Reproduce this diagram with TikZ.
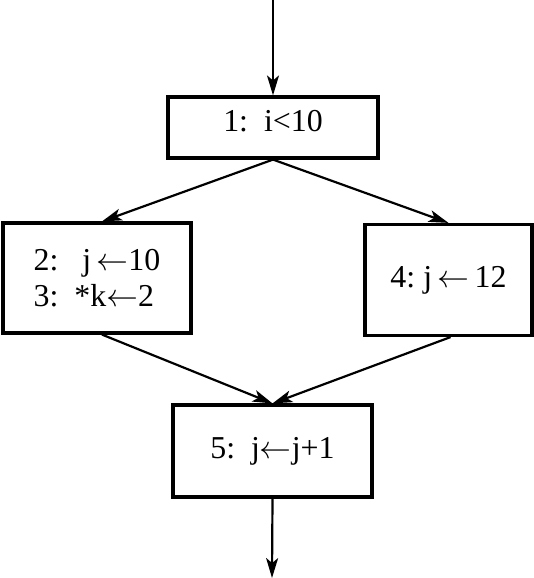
\RequirePackage{fix-cm}
\documentclass[tikz,border=0pt]{standalone}
\usepackage{fontspec}
\setmainfont{Liberation Serif}
\usetikzlibrary{arrows.meta}

\tikzset{
  blk/.style={draw, line width=3.2pt, inner sep=0pt, font=\fontsize{32}{36}\selectfont},
  flow/.style={line width=2.2pt, -{Stealth[length=20pt,width=12pt,inset=5pt]}}
}
\newcommand{\asgn}{\ensuremath{\leftarrow}}

\begin{document}
\begin{tikzpicture}[x=1bp, y=-1bp]
  \useasboundingbox (0,0) rectangle (534,578);
  % blocks
  \node[blk, minimum width=188bp, minimum height=110bp, align=left] (b2) at (97,278) {2:\ \ \ j\,\asgn10\\3:\ \ *k\asgn2\hspace*{4bp}};
  \node[blk, minimum width=210bp, minimum height=61bp, text height=23bp, text depth=15bp] (b1) at (273,127.5) {1:\ \ i<10};
  \node[blk, minimum width=167bp, minimum height=111bp] (b4) at (448.5,280) {4:\ j\,\asgn\,12};
  \node[blk, minimum width=199bp, minimum height=92bp] (b5) at (272.5,451) {5:\ \ j\asgn j+1};
  \coordinate (in) at (273,0);
  \coordinate (out) at (272,578);
  % edges
  \draw[flow] (in) -- (b1.north);
  \draw[flow] (b1.south) -- ([xshift=5bp]b2.north);
  \draw[flow] (b1.south) -- (b4.north);
  \draw[flow] ([xshift=5bp]b2.south) -- (b5.north);
  \draw[flow] ([xshift=2bp]b4.south) -- (b5.north);
  \draw[flow] (b5.south) -- (out);
\end{tikzpicture}
\end{document}
